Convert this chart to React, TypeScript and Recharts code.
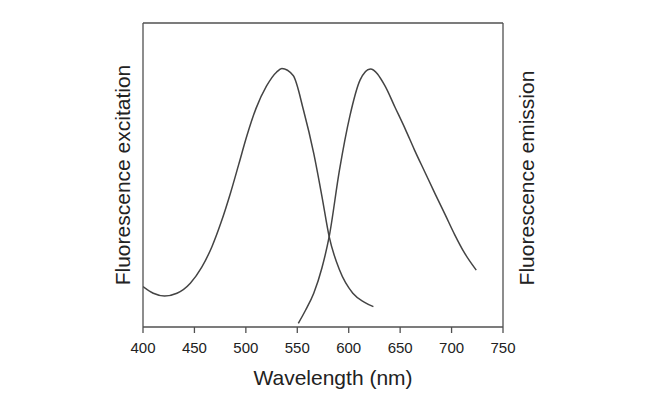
import { LineChart, Line, XAxis, YAxis, ReferenceLine } from 'recharts'

const excitationNm = [400, 410, 421, 433, 446, 457, 467, 476, 485, 493, 501, 510, 520, 530, 535, 546, 556, 566, 574, 581, 591, 604, 615, 624]
const excitationValues = [13.3, 11.1, 10.2, 11.1, 14.4, 19.6, 26.4, 34.5, 44, 53.4, 62.9, 72, 79.2, 83.9, 85, 82.7, 71.4, 57.1, 42.9, 29.7, 18.8, 11.1, 8.2, 6.7]

const emissionNm = [551, 558, 566, 574, 581, 591, 601, 611, 621, 635, 645, 655, 664, 674, 684, 694, 703, 713, 724]
const emissionValues = [1.2, 5.5, 11.1, 19.5, 29.7, 51.6, 69.2, 81.2, 84.9, 79.5, 72.3, 65.1, 58.2, 51, 43.8, 36.8, 30.4, 24.1, 18.7]

const wavelengthTicks = [400, 450, 500, 550, 600, 650, 700, 750]

const excitation = excitationNm.map((w, i) => ({ w, v: excitationValues[i] }))
const emission = emissionNm.map((w, i) => ({ w, v: emissionValues[i] }))

const FONT = '"Liberation Sans", Arial, Helvetica, sans-serif'
const INK = '#222'
const LINE = '#444'
const FRAME = '#505050'

const LeftTitle = ({ viewBox }: any) => {
  const x = viewBox.x + viewBox.width - 13.5
  const y = viewBox.y + viewBox.height / 2
  return (
    <text x={x} y={y} transform={`rotate(-90, ${x}, ${y})`} textAnchor="middle" fontSize={21} fill={INK} fontFamily={FONT}>
      Fluorescence excitation
    </text>
  )
}

const RightTitle = ({ viewBox }: any) => {
  const x = viewBox.x + 31
  const y = viewBox.y + viewBox.height / 2 + 3
  return (
    <text x={x} y={y} transform={`rotate(-90, ${x}, ${y})`} textAnchor="middle" fontSize={21} fill={INK} fontFamily={FONT}>
      Fluorescence emission
    </text>
  )
}

const BottomTitle = ({ viewBox }: any) => (
  <text x={viewBox.x + viewBox.width / 2 + 10} y={viewBox.y + 58} textAnchor="middle" fontSize={21} fill={INK} fontFamily={FONT}>
    Wavelength (nm)
  </text>
)

export default function App() {
  return (
    <div style={{ width: 650, height: 395, background: '#fff' }}>
      <style>{'body{margin:0}'}</style>
      <LineChart width={650} height={395} margin={{ top: 23, right: 117, bottom: 18, left: 113 }}>
        <XAxis
          dataKey="w"
          type="number"
          domain={[400, 750]}
          ticks={wavelengthTicks}
          allowDataOverflow
          height={50}
          stroke={FRAME}
          strokeWidth={1.3}
          tickSize={6}
          tickMargin={9}
          tick={{ fill: INK, fontSize: 15, fontFamily: FONT }}
          label={{ content: BottomTitle }}
        />
        <YAxis
          yAxisId="left"
          domain={[0, 100]}
          width={30}
          tick={false}
          tickLine={false}
          stroke={FRAME}
          strokeWidth={1.3}
          label={{ content: LeftTitle }}
        />
        <YAxis
          yAxisId="right"
          orientation="right"
          domain={[0, 100]}
          width={30}
          tick={false}
          tickLine={false}
          stroke={FRAME}
          strokeWidth={1.3}
          label={{ content: RightTitle }}
        />
        <ReferenceLine yAxisId="left" y={100} stroke={FRAME} strokeWidth={1.3} />
        <Line
          yAxisId="left"
          data={excitation}
          dataKey="v"
          type="monotone"
          stroke={LINE}
          strokeWidth={1.5}
          dot={false}
          isAnimationActive={false}
        />
        <Line
          yAxisId="left"
          data={emission}
          dataKey="v"
          type="monotone"
          stroke={LINE}
          strokeWidth={1.5}
          dot={false}
          isAnimationActive={false}
        />
      </LineChart>
    </div>
  )
}
